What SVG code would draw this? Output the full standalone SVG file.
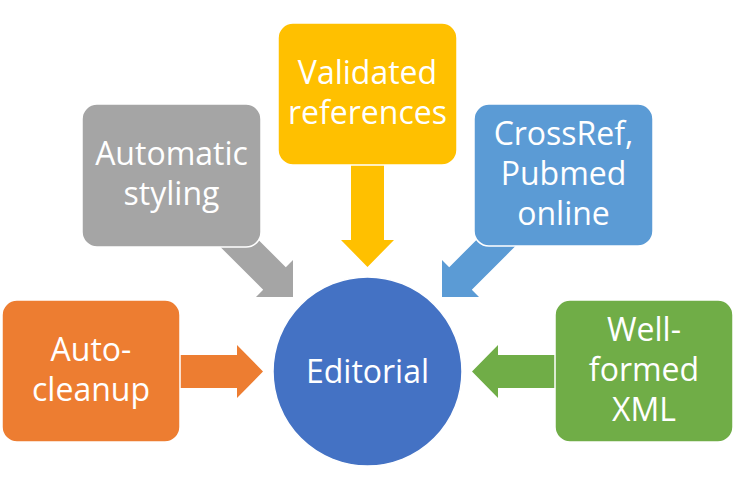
<svg xmlns="http://www.w3.org/2000/svg" width="735" height="489" viewBox="0 0 735 489">
<style>
  .lbl { font-family: "Open Sans", "Liberation Sans", sans-serif; font-size: 32px; fill: #ffffff; text-anchor: middle; }
  .box { stroke: #ffffff; stroke-width: 1.5; }
</style>
<rect width="735" height="489" fill="#ffffff"/>
<g id="connectors">
  <polygon fill="#ED7D31" points="170,355 237,355 237,345 263,371.5 237,398 237,388 170,388"/>
  <polygon fill="#70AD47" points="565,355 498,355 498,345 472,371.5 498,398 498,388 565,388"/>
  <polygon fill="#FFC000" points="351,155 384,155 384,240 394,240 367.5,267 341,240 351,240"/>
  <polygon fill="#A5A5A5" points="203.4,230 263.2,289.8 256,297 293,297 293,260 285.8,267.2 226,207.4"/>
  <polygon fill="#5B9BD5" points="531.6,230 471.8,289.8 479,297 442,297 442,260 449.2,267.2 509,207.4"/>
</g>
<g id="node-autocleanup">
  <rect class="box" x="2" y="300" width="178" height="142" rx="15" fill="#ED7D31"/>
  <text class="lbl" x="91" y="361">Auto-</text>
  <text class="lbl" x="91" y="401">cleanup</text>
</g>
<g id="node-styling">
  <rect class="box" x="82" y="104" width="179" height="143" rx="15" fill="#A5A5A5"/>
  <text class="lbl" x="171.5" y="165">Automatic</text>
  <text class="lbl" x="171.5" y="205">styling</text>
</g>
<g id="node-references">
  <rect class="box" x="278" y="23" width="179" height="142" rx="15" fill="#FFC000"/>
  <text class="lbl" x="367.5" y="84">Validated</text>
  <text class="lbl" x="367.5" y="124">references</text>
</g>
<g id="node-crossref">
  <rect class="box" x="474" y="104" width="179" height="142" rx="15" fill="#5B9BD5"/>
  <text class="lbl" x="563.5" y="145">CrossRef,</text>
  <text class="lbl" x="563.5" y="185">Pubmed</text>
  <text class="lbl" x="563.5" y="225">online</text>
</g>
<g id="node-xml">
  <rect class="box" x="555" y="300" width="178" height="142" rx="15" fill="#70AD47"/>
  <text class="lbl" x="644" y="341">Well-</text>
  <text class="lbl" x="644" y="381">formed</text>
  <text class="lbl" x="644" y="421">XML</text>
</g>
<g id="node-editorial">
  <circle cx="367.5" cy="371.5" r="94.5" fill="#4472C4" stroke="#ffffff" stroke-width="1.5"/>
  <text class="lbl" x="367.5" y="383">Editorial</text>
</g>
</svg>
